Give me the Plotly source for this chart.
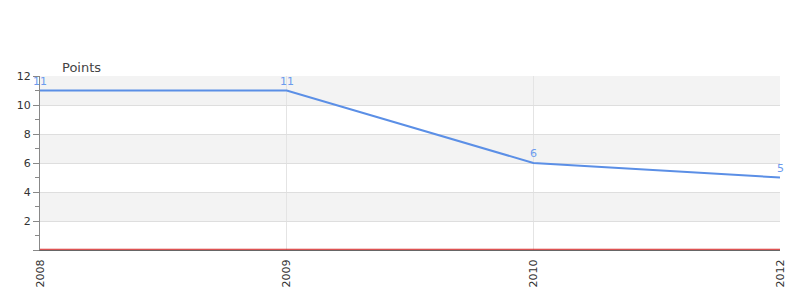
import plotly.graph_objects as go

categories = ["2008", "2009", "2010", "2012"]
points = [11, 11, 6, 5]
y_tick_vals = [0, 2, 4, 6, 8, 10, 12]
y_tick_text = ["", "2", "4", "6", "8", "10", "12"]
band_ranges = [(10, 12), (6, 8), (2, 4)]

fig = go.Figure()
fig.add_trace(go.Scatter(
    x=categories, y=points, mode="lines",
    line=dict(color="#5b8fe6", width=2),
    cliponaxis=False, showlegend=False, hoverinfo="skip",
))

# category axes place annotations by category index
annotations = [dict(x=i, y=v, xref="x", yref="y", text=str(v), showarrow=False,
                    yanchor="bottom", yshift=1,
                    font=dict(family="DejaVu Sans", size=11, color="#6c9bee"))
               for i, v in enumerate(points)]
annotations.append(dict(text="Points", xref="paper", yref="paper", x=0.027, y=1.0,
                        xanchor="left", yanchor="bottom", yshift=-1, showarrow=False,
                        font=dict(family="DejaVu Sans", size=13, color="#444")))

shapes = []
for lo, hi in band_ranges:
    shapes.append(dict(type="rect", xref="paper", yref="y", x0=0, x1=1, y0=lo, y1=hi,
                       fillcolor="#f3f3f3", line=dict(width=0), layer="below"))
shapes.append(dict(type="line", xref="paper", yref="y", x0=0, x1=1, y0=0.05, y1=0.05,
                   line=dict(color="#d42020", width=1), layer="above"))

fig.update_layout(
    width=800, height=300,
    margin=dict(l=40, r=20, t=76, b=50),
    paper_bgcolor="white", plot_bgcolor="white",
    font=dict(family="DejaVu Sans", size=11, color="#333"),
    shapes=shapes,
    annotations=annotations,
    xaxis=dict(type="category", range=[0, 3], showgrid=True, gridcolor="#e4e4e4",
               tickangle=-90, ticks="outside", ticklen=4, tickcolor="rgba(0,0,0,0)",
               showline=True, linecolor="#666", linewidth=1,
               zeroline=False, tickfont=dict(size=11, color="#333")),
    yaxis=dict(range=[0, 12], tickvals=y_tick_vals, ticktext=y_tick_text,
               showgrid=True, gridcolor="#dedede", zeroline=False,
               showline=True, linecolor="#888", linewidth=1,
               ticks="outside", ticklen=6, tickcolor="#888",
               minor=dict(ticks="outside", dtick=1, ticklen=4, tickcolor="#888", showgrid=False),
               tickfont=dict(size=11, color="#333")),
)

fig.write_html("out.html")
